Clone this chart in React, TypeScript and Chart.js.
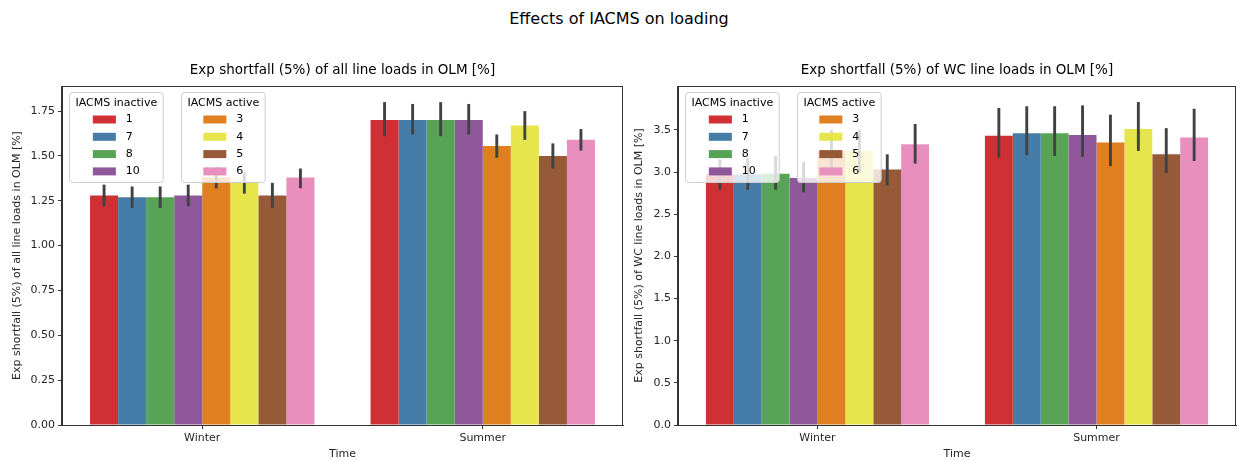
import React, { useEffect, useRef } from 'react';
import { Chart, registerables } from 'chart.js';

Chart.register(...registerables);

const FONT = '"DejaVu Sans", "Liberation Sans", sans-serif';
Chart.defaults.font.family = FONT;

// ---- data ----
const seasons = ['Winter', 'Summer'];
const inactiveRuns = ['1', '7', '8', '10'];
const activeRuns = ['3', '4', '5', '6'];
const runColors = ['#cf3033', '#457ca8', '#58a356', '#8f589b', '#df7f20', '#e6e64c', '#975a38', '#e88fbe'];

// Exp shortfall (5%) of all line loads, run order 1,7,8,10,3,4,5,6
const allWinter = [1.28, 1.27, 1.27, 1.28, 1.38, 1.35, 1.28, 1.38];
const allWinterCI = [[1.22, 1.34], [1.21, 1.33], [1.21, 1.33], [1.22, 1.34], [1.32, 1.44], [1.29, 1.41], [1.21, 1.35], [1.32, 1.43]];
const allSummer = [1.70, 1.70, 1.70, 1.70, 1.555, 1.67, 1.50, 1.59];
const allSummerCI = [[1.61, 1.80], [1.62, 1.79], [1.61, 1.80], [1.62, 1.79], [1.49, 1.62], [1.59, 1.75], [1.43, 1.57], [1.53, 1.65]];
const allTickLabels = ['0.00', '0.25', '0.50', '0.75', '1.00', '1.25', '1.50', '1.75'];
const allYMax = 1.89;

// Exp shortfall (5%) of WC line loads, run order 1,7,8,10,3,4,5,6
const wcWinter = [2.97, 2.97, 2.98, 2.93, 3.25, 3.25, 3.03, 3.33];
const wcWinterCI = [[2.79, 3.15], [2.79, 3.17], [2.79, 3.19], [2.76, 3.12], [3.01, 3.50], [3.00, 3.50], [2.84, 3.21], [3.10, 3.57]];
const wcSummer = [3.43, 3.46, 3.46, 3.44, 3.35, 3.51, 3.21, 3.41];
const wcSummerCI = [[3.17, 3.76], [3.20, 3.78], [3.19, 3.78], [3.18, 3.79], [3.07, 3.68], [3.25, 3.83], [2.99, 3.52], [3.13, 3.75]];
const wcTickLabels = ['0.0', '0.5', '1.0', '1.5', '2.0', '2.5', '3.0', '3.5'];
const wcYMax = 4.02;

const runIds = [...inactiveRuns, ...activeRuns];

type Panel = {
  title: string;
  yLabel: string;
  winter: number[];
  winterCI: number[][];
  summer: number[];
  summerCI: number[][];
  tickLabels: string[];
  yMax: number;
  canvasLeft: number;
  canvasWidth: number;
  yScaleWidth: number;
  padRight: number;
  yTitlePad: number;
};

const HEIGHT = 461;
const AREA_TOP = 86;
const AREA_BOTTOM = 425;
const SPINE = '#333333';
const TEXT = '#262626';

// error bars, axes frame, in-axes legends and axes title
const decorations = {
  id: 'decorations',
  afterDatasetsDraw(chart: any) {
    const { ctx, chartArea } = chart;
    const y = chart.scales.y;
    ctx.save();
    ctx.strokeStyle = '#424242';
    ctx.lineWidth = 2.9;
    ctx.lineCap = 'butt';
    chart.data.datasets.forEach((ds: any, i: number) => {
      const meta = chart.getDatasetMeta(i);
      meta.data.forEach((bar: any, j: number) => {
        const [lo, hi] = ds.ci[j];
        ctx.beginPath();
        ctx.moveTo(bar.x, y.getPixelForValue(lo));
        ctx.lineTo(bar.x, y.getPixelForValue(hi));
        ctx.stroke();
      });
    });
    // frame
    ctx.strokeStyle = SPINE;
    ctx.lineWidth = 1;
    const l = Math.round(chartArea.left) - 0.5;
    const t = Math.round(chartArea.top) + 0.5;
    const r = Math.round(chartArea.right) - 0.5;
    const b = Math.round(chartArea.bottom) + 0.5;
    ctx.strokeRect(l, t, r - l, b - t);
    ctx.restore();
  },
  afterDraw(chart: any, _args: any, opts: any) {
    const { ctx, chartArea } = chart;
    ctx.save();
    // axes title
    ctx.fillStyle = '#000';
    ctx.font = `13.5px ${FONT}`;
    ctx.textAlign = 'center';
    ctx.textBaseline = 'middle';
    ctx.fillText(opts.title, (chartArea.left + chartArea.right) / 2, 70);

    // legends
    ctx.font = `11px ${FONT}`;
    const groups = [
      { title: 'IACMS inactive', labels: inactiveRuns, colors: runColors.slice(0, 4), dx: 7 },
      { title: 'IACMS active', labels: activeRuns, colors: runColors.slice(4), dx: 119 },
    ];
    groups.forEach((g) => {
      const titleW = ctx.measureText(g.title).width;
      const labelW = Math.max(...g.labels.map((s) => ctx.measureText(s).width));
      const blockW = 23 + 10 + labelW;
      const w = Math.max(titleW, blockW) + 12;
      const h = 90;
      const x0 = Math.round(chartArea.left + g.dx) + 0.5;
      const y0 = Math.round(chartArea.top + 6) + 0.5;
      ctx.beginPath();
      ctx.roundRect(x0, y0, w, h, 3);
      ctx.fillStyle = 'rgba(255,255,255,0.8)';
      ctx.fill();
      ctx.strokeStyle = '#cccccc';
      ctx.lineWidth = 1;
      ctx.stroke();
      ctx.fillStyle = '#000';
      ctx.textAlign = 'center';
      ctx.textBaseline = 'middle';
      ctx.fillText(g.title, x0 + w / 2, y0 + 11);
      const bx = x0 + (w - blockW) / 2;
      g.labels.forEach((lab, i) => {
        const cy = y0 + 27 + 17.3 * i;
        ctx.fillStyle = g.colors[i];
        ctx.fillRect(bx, cy - 4, 23, 8);
        ctx.fillStyle = '#000';
        ctx.textAlign = 'left';
        ctx.fillText(lab, bx + 33, cy);
      });
    });
    ctx.restore();
  },
};

function BarPanel({ panel }: { panel: Panel }) {
  const ref = useRef<HTMLCanvasElement | null>(null);
  useEffect(() => {
    const datasets = runIds.map((id, i) => ({
      label: id,
      data: [panel.winter[i], panel.summer[i]],
      ci: [panel.winterCI[i], panel.summerCI[i]],
      backgroundColor: runColors[i],
      borderWidth: 0,
      categoryPercentage: 0.8,
      barPercentage: 1.0,
    }));
    const chart = new Chart(ref.current as HTMLCanvasElement, {
      type: 'bar',
      data: { labels: seasons, datasets: datasets as any },
      plugins: [decorations],
      options: {
        responsive: false,
        animation: false,
        devicePixelRatio: 1,
        layout: { padding: { top: AREA_TOP, right: panel.padRight, left: 0, bottom: 0 } },
        plugins: {
          legend: { display: false },
          tooltip: { enabled: false },
          decorations: { title: panel.title },
        } as any,
        scales: {
          x: {
            type: 'category',
            offset: true,
            grid: { display: true, drawOnChartArea: false, drawTicks: true, tickLength: 4, color: SPINE, offset: false },
            border: { display: true, color: SPINE, width: 1 },
            ticks: { color: TEXT, font: { size: 11 }, padding: 3, maxRotation: 0 },
            title: { display: true, text: 'Time', color: TEXT, font: { size: 11 }, padding: { top: 0, bottom: 0 } },
            afterFit: (scale: any) => {
              scale.height = HEIGHT - AREA_BOTTOM;
            },
          },
          y: {
            type: 'linear',
            min: 0,
            max: panel.yMax,
            grid: { display: true, drawOnChartArea: false, drawTicks: true, tickLength: 4, color: SPINE },
            border: { display: true, color: SPINE, width: 1 },
            ticks: {
              color: TEXT,
              font: { size: 11 },
              padding: 3,
              callback: (_v: any, idx: number) => panel.tickLabels[idx],
            },
            afterBuildTicks: (scale: any) => {
              scale.ticks = panel.tickLabels.map((t) => ({ value: parseFloat(t) }));
            },
            title: { display: true, text: panel.yLabel, color: TEXT, font: { size: 11 }, padding: { top: panel.yTitlePad, bottom: 0 } },
            afterFit: (scale: any) => {
              scale.width = panel.yScaleWidth;
            },
          },
        },
      } as any,
    });
    return () => chart.destroy();
  }, [panel]);
  return (
    <canvas
      ref={ref}
      width={panel.canvasWidth}
      height={HEIGHT}
      style={{ position: 'absolute', left: panel.canvasLeft, top: 0, width: panel.canvasWidth, height: HEIGHT }}
    />
  );
}

const allPanel: Panel = {
  title: 'Exp shortfall (5%) of all line loads in OLM [%]',
  yLabel: 'Exp shortfall (5%) of all line loads in OLM [%]',
  winter: allWinter,
  winterCI: allWinterCI,
  summer: allSummer,
  summerCI: allSummerCI,
  tickLabels: allTickLabels,
  yMax: allYMax,
  canvasLeft: 0,
  canvasWidth: 630,
  yScaleWidth: 62,
  padRight: 7,
  yTitlePad: 11,
};

const wcPanel: Panel = {
  title: 'Exp shortfall (5%) of WC line loads in OLM [%]',
  yLabel: 'Exp shortfall (5%) of WC line loads in OLM [%]',
  winter: wcWinter,
  winterCI: wcWinterCI,
  summer: wcSummer,
  summerCI: wcSummerCI,
  tickLabels: wcTickLabels,
  yMax: wcYMax,
  canvasLeft: 630,
  canvasWidth: 608,
  yScaleWidth: 48,
  padRight: 2,
  yTitlePad: 3,
};

export default function App() {
  return (
    <div style={{ position: 'absolute', left: 0, top: 0, width: 1238, height: HEIGHT, background: '#fff', overflow: 'hidden' }}>
      <div
        style={{
          position: 'absolute',
          left: 0,
          top: 8,
          width: 1238,
          textAlign: 'center',
          fontFamily: FONT,
          fontSize: 16,
          lineHeight: '21px',
          color: '#000',
        }}
      >
        Effects of IACMS on loading
      </div>
      <BarPanel panel={allPanel} />
      <BarPanel panel={wcPanel} />
    </div>
  );
}
